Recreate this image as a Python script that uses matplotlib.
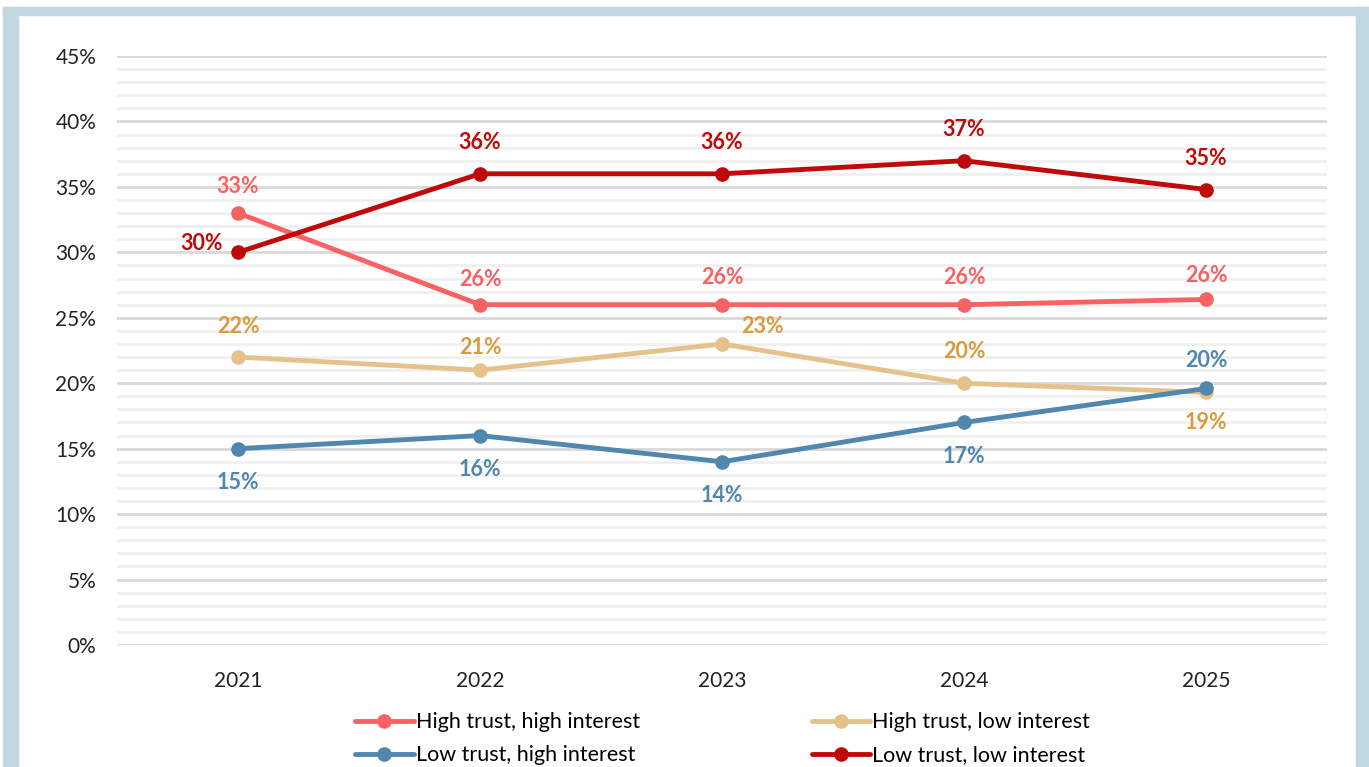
import matplotlib.pyplot as plt
from matplotlib.patches import Rectangle
from matplotlib.ticker import MultipleLocator, FuncFormatter

years = ["2021", "2022", "2023", "2024", "2025"]
high_high = [33, 26, 26, 26, 26.4]
high_low = [22, 21, 23, 20, 19.3]
low_high = [15, 16, 14, 17, 19.6]
low_low = [30, 36, 36, 37, 34.8]

labels_hh = ["33%", "26%", "26%", "26%", "26%"]
labels_hl = ["22%", "21%", "23%", "20%", "19%"]
labels_lh = ["15%", "16%", "14%", "17%", "20%"]
labels_ll = ["30%", "36%", "36%", "37%", "35%"]

plt.rcParams['font.family'] = ['Lato', 'DejaVu Sans']

fig = plt.figure(figsize=(13.69, 7.67), dpi=100)
W, H = 1369, 767

# light blue frame
frame_col = "#C0D9DE"
fig.patches.append(Rectangle((3 / W, 0), 15 / W, 1 - 7 / H, transform=fig.transFigure, color=frame_col, zorder=0))
fig.patches.append(Rectangle((3 / W, 1 - 15 / H), 1 - 3 / W, 8 / H, transform=fig.transFigure, color=frame_col, zorder=0))
fig.patches.append(Rectangle((1356 / W, 0), 13 / W, 1 - 7 / H, transform=fig.transFigure, color=frame_col, zorder=0))

ax = fig.add_axes([117 / W, 1 - 645 / H, 1210 / W, 589 / H])
x = list(range(len(years)))

series = [
    (high_high, labels_hh, "#F86262", "#F86262", "High trust, high interest"),
    (high_low, labels_hl, "#E5C28C", "#D89B3E", "High trust, low interest"),
    (low_high, labels_lh, "#4F87AE", "#4F87AE", "Low trust, high interest"),
    (low_low, labels_ll, "#C00A0A", "#C00A0A", "Low trust, low interest"),
]
lines = {}
for vals, labs, col, tcol, name in series:
    ln, = ax.plot(x, vals, color=col, lw=3.5, marker="o", markersize=9.5,
                  solid_capstyle="round", label=name, zorder=3)
    lines[name] = ln

# data labels: (dx px, dy px) offsets
offs = {
    "High trust, high interest": [(0, 27), (0, 25), (0, 27), (0, 27), (0, 24)],
    "High trust, low interest": [(0, 31), (0, 23), (40, 17), (0, 32), (0, -30)],
    "Low trust, high interest": [(0, -34), (0, -34), (0, -34), (0, -34), (0, 28)],
    "Low trust, low interest": [(-36, 9), (0, 31), (0, 31), (0, 31), (0, 31)],
}
for vals, labs, col, tcol, name in series:
    for i, (v, t) in enumerate(zip(vals, labs)):
        dx, dy = offs[name][i]
        ax.annotate(t, (i, v), xytext=(dx * 0.72, dy * 0.72), textcoords="offset points",
                    ha="center", va="center", color=tcol, fontsize=15.5, fontweight="bold", zorder=4)

ax.set_xlim(-0.5, 4.5)
ax.set_ylim(0, 45)
ax.set_xticks(x)
ax.set_xticklabels(years)
ax.yaxis.set_major_locator(MultipleLocator(5))
ax.yaxis.set_minor_locator(MultipleLocator(1))
ax.yaxis.set_major_formatter(FuncFormatter(lambda v, p: f"{v:.0f}%"))
ax.grid(axis="y", which="major", color="#D9D9D9", lw=2, zorder=0)
ax.grid(axis="y", which="minor", color="#F0F0F0", lw=2, zorder=0)
for s in ax.spines.values():
    s.set_visible(False)
ax.tick_params(axis="both", which="both", length=0, labelsize=15, colors="#222222")
ax.tick_params(axis="y", pad=15)
ax.tick_params(axis="x", pad=19)

# legend filled row by row
order = ["High trust, high interest", "Low trust, high interest",
         "High trust, low interest", "Low trust, low interest"]
fig.legend([lines[n] for n in order], order, loc="upper left", ncol=2,
           bbox_to_anchor=(336 / W, 1 - 693 / H), frameon=False, fontsize=15.5,
           columnspacing=8.0, handlelength=2.7, handletextpad=0.1, labelspacing=0.6)

fig.savefig("out.png", dpi=100, facecolor="white")
